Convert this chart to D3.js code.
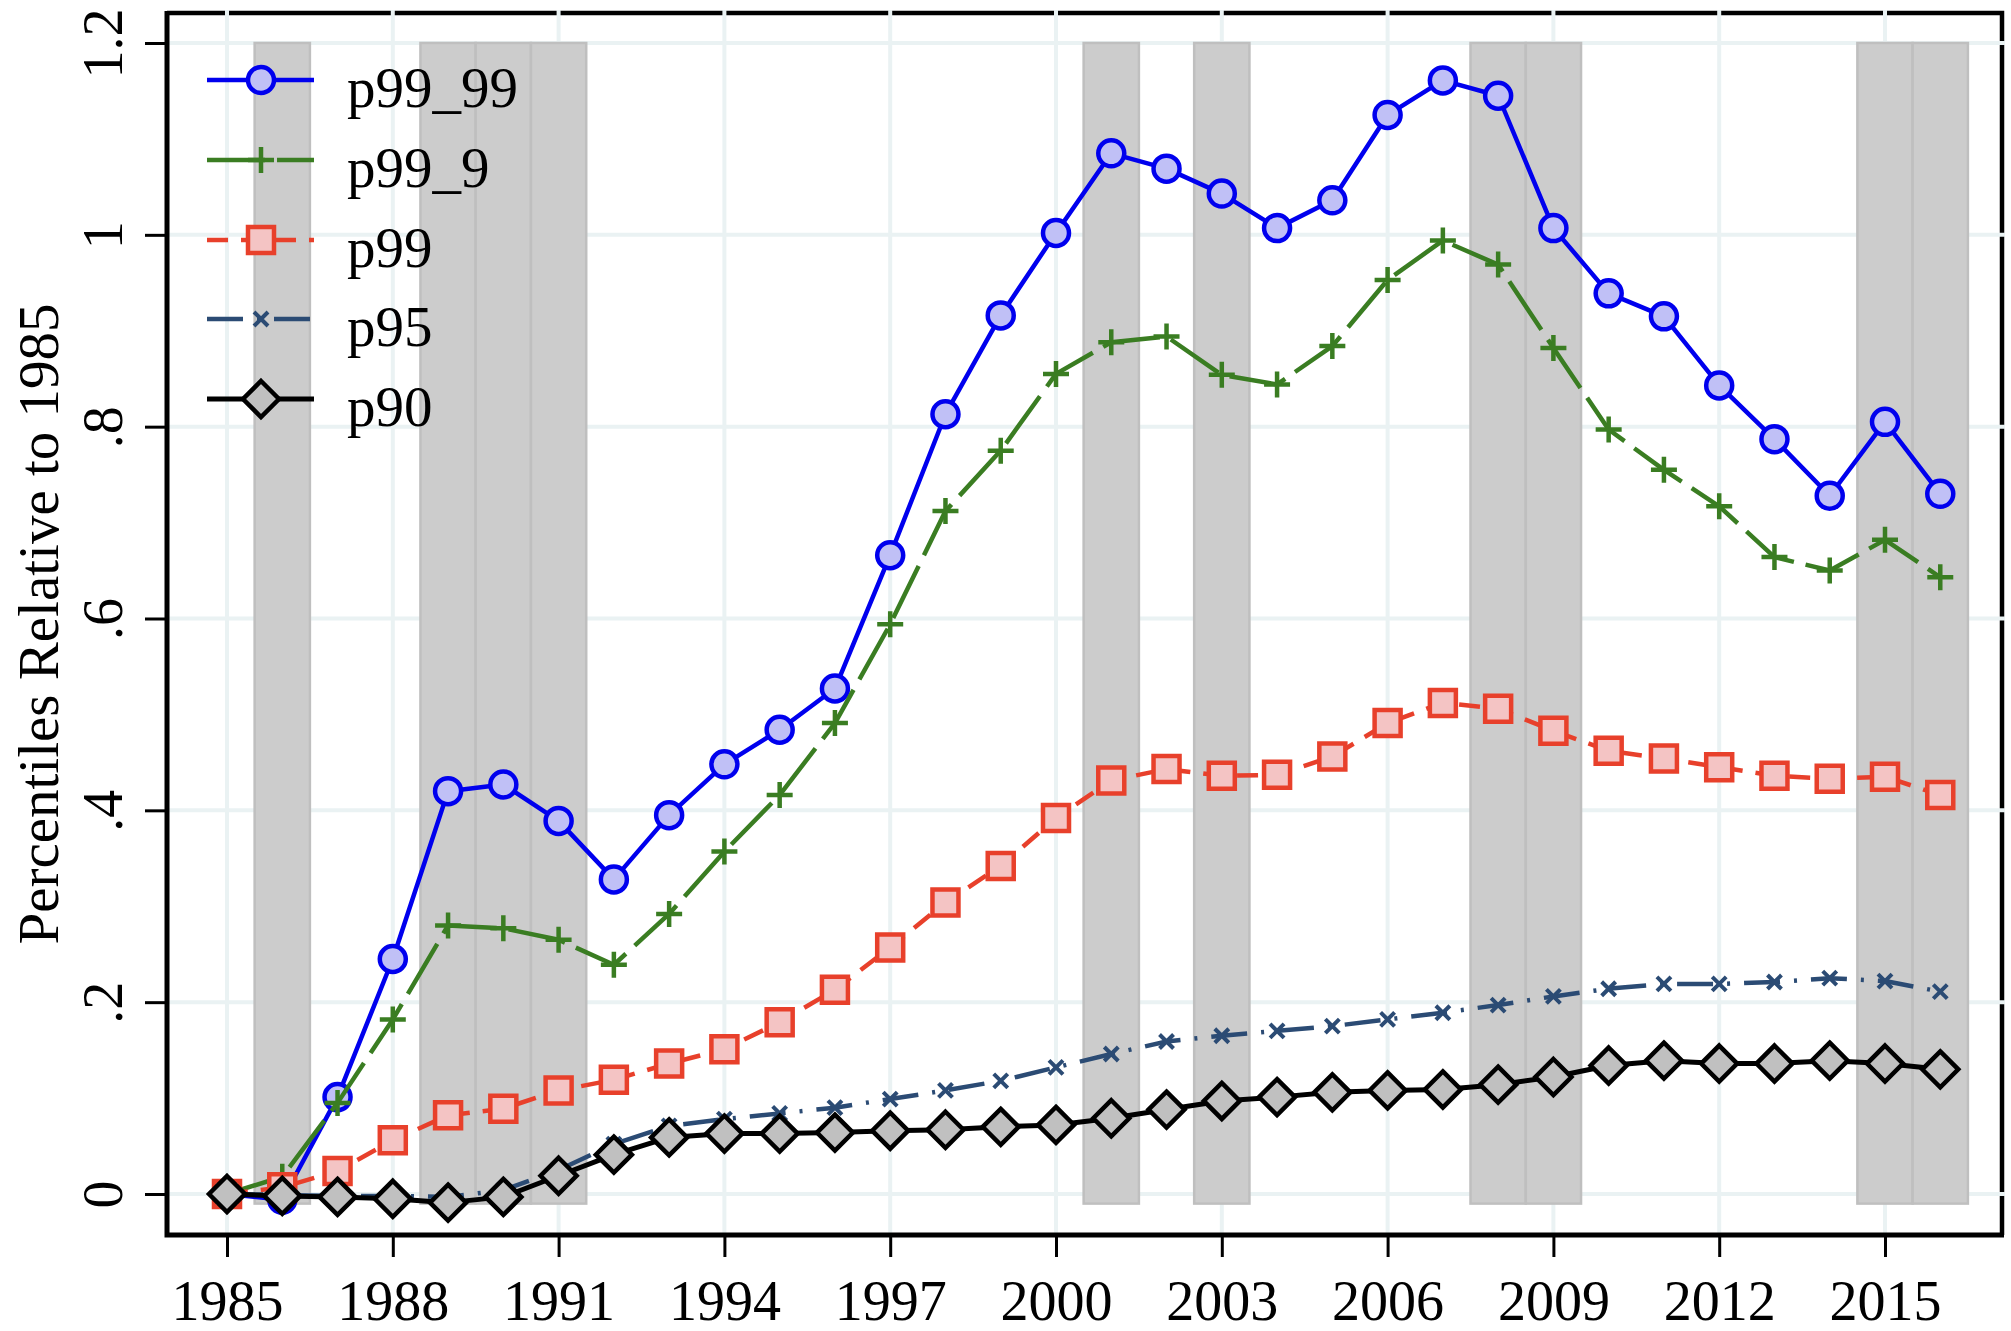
<!DOCTYPE html>
<html>
<head>
<meta charset="utf-8">
<script src="https://cdn.jsdelivr.net/npm/d3@7"></script>
<style>
  body { margin: 0; background: #fff; }
  text { font-family: "Liberation Serif", "Times New Roman", serif; fill: #000; }
</style>
</head>
<body>
<div id="chart"></div>
<script>
// Data
var years = [1985, 1986, 1987, 1988, 1989, 1990, 1991, 1992, 1993, 1994, 1995, 1996, 1997, 1998, 1999, 2000,
             2001, 2002, 2003, 2004, 2005, 2006, 2007, 2008, 2009, 2010, 2011, 2012, 2013, 2014, 2015, 2016];

var p99_99 = [0, -0.006, 0.101, 0.245, 0.420, 0.427, 0.389, 0.328, 0.395, 0.448, 0.484, 0.527, 0.666, 0.813, 0.916, 1.002,
              1.085, 1.069, 1.043, 1.007, 1.036, 1.125, 1.161, 1.145, 1.007, 0.939, 0.915, 0.843, 0.787, 0.728, 0.805, 0.730];
var p99_9 = [0, 0.018, 0.095, 0.182, 0.280, 0.277, 0.265, 0.239, 0.292, 0.357, 0.416, 0.491, 0.594, 0.712, 0.775, 0.855,
             0.888, 0.894, 0.854, 0.844, 0.884, 0.953, 0.994, 0.969, 0.882, 0.797, 0.755, 0.717, 0.664, 0.650, 0.682, 0.643];
var p99 = [0, 0.007, 0.024, 0.056, 0.082, 0.089, 0.108, 0.119, 0.136, 0.151, 0.179, 0.213, 0.257, 0.304, 0.342, 0.392,
           0.431, 0.443, 0.436, 0.437, 0.456, 0.491, 0.512, 0.506, 0.483, 0.462, 0.454, 0.445, 0.436, 0.433, 0.435, 0.416];
var p95 = [0, -0.001, -0.002, -0.002, -0.003, 0.004, 0.025, 0.052, 0.071, 0.078, 0.084, 0.090, 0.099, 0.108, 0.118, 0.132,
           0.146, 0.159, 0.165, 0.170, 0.175, 0.182, 0.189, 0.197, 0.206, 0.214, 0.219, 0.219, 0.221, 0.225, 0.222, 0.211];
var p90 = [0, -0.002, -0.003, -0.005, -0.009, -0.003, 0.019, 0.041, 0.059, 0.063, 0.063, 0.064, 0.066, 0.067, 0.070, 0.072,
           0.079, 0.088, 0.097, 0.101, 0.106, 0.108, 0.109, 0.114, 0.122, 0.134, 0.139, 0.136, 0.136, 0.139, 0.136, 0.130];

var recessionYears = [1986, 1989, 1990, 1991, 2001, 2003, 2008, 2009, 2015, 2016];

var xTicks = [1985, 1988, 1991, 1994, 1997, 2000, 2003, 2006, 2009, 2012, 2015];
var yTicks = [0, 0.2, 0.4, 0.6, 0.8, 1, 1.2];
var yTickLabels = ["0", ".2", ".4", ".6", ".8", "1", "1.2"];

var seriesNames = ["p99_99", "p99_9", "p99", "p95", "p90"];

// Layout
var width = 2011, height = 1331;
var plot = {left: 167, right: 2002, top: 13, bottom: 1235};

var x = d3.scaleLinear().domain([1985, 2015]).range([227, 1885]);
var y = d3.scaleLinear().domain([0, 1.2]).range([1194, 43]);

var series = [
  {name: seriesNames[0], values: p99_99, color: "#0000ee", fill: "#c0c0f6", dash: null,          marker: "circle",  lw: 4.5},
  {name: seriesNames[1], values: p99_9,  color: "#3a7d22", fill: "none",    dash: "58,12",       marker: "plus",    lw: 4.5},
  {name: seriesNames[2], values: p99,    color: "#e8402b", fill: "#f4c4c4", dash: "21,13",       marker: "square",  lw: 4.5},
  {name: seriesNames[3], values: p95,    color: "#2b4b74", fill: "none",    dash: "36,14,3,14",  marker: "x",       lw: 4.5},
  {name: seriesNames[4], values: p90,    color: "#000000", fill: "#c0c0c0", dash: null,          marker: "diamond", lw: 5}
];

function markerPath(type) {
  switch (type) {
    case "circle":  return "M-13,0A13,13 0 1,0 13,0A13,13 0 1,0 -13,0Z";
    case "square":  return "M-13,-13H13V13H-13Z";
    case "diamond": return "M0,-18L18,0L0,18L-18,0Z";
    case "plus":    return "M-13,0H13M0,-13V13";
    case "x":       return "M-7,-7L7,7M-7,7L7,-7";
  }
}

var svg = d3.select("#chart")
  .append("svg")
  .attr("width", width)
  .attr("height", height)
  .style("display", "block");

svg.append("rect").attr("width", width).attr("height", height).attr("fill", "#fff");

// plot region outline (top + right), gridlines go over it
svg.append("path")
  .attr("d", "M" + plot.left + "," + plot.top + "H" + plot.right + "V" + plot.bottom)
  .attr("fill", "none")
  .attr("stroke", "#000")
  .attr("stroke-width", 4.5);

// Gridlines
svg.append("g").selectAll("line.hgrid")
  .data(yTicks)
  .enter().append("line")
  .attr("class", "hgrid")
  .attr("x1", plot.left).attr("x2", plot.right + 3)
  .attr("y1", function(d) { return y(d); })
  .attr("y2", function(d) { return y(d); })
  .attr("stroke", "#eaf2f3")
  .attr("stroke-width", 4);

svg.append("g").selectAll("line.vgrid")
  .data(xTicks)
  .enter().append("line")
  .attr("class", "vgrid")
  .attr("x1", function(d) { return x(d); })
  .attr("x2", function(d) { return x(d); })
  .attr("y1", plot.top - 3).attr("y2", plot.bottom)
  .attr("stroke", "#eaf2f3")
  .attr("stroke-width", 4);

// Recession shading
svg.append("g").selectAll("rect")
  .data(recessionYears)
  .enter().append("rect")
  .attr("x", function(d) { return x(d - 0.5); })
  .attr("width", function(d) { return x(d + 0.5) - x(d - 0.5); })
  .attr("y", y(1.2))
  .attr("height", y(-0.01) - y(1.2))
  .attr("fill", "#cccccc")
  .attr("stroke", "#bfbfbf")
  .attr("stroke-width", 2.5);

// Series
var line = d3.line()
  .x(function(d, i) { return x(years[i]); })
  .y(function(d) { return y(d); });

series.forEach(function(s) {
  var g = svg.append("g").attr("class", "series");
  g.append("path")
    .attr("d", line(s.values))
    .attr("fill", "none")
    .attr("stroke", s.color)
    .attr("stroke-width", s.lw)
    .attr("stroke-linejoin", "round")
    .attr("stroke-dasharray", s.dash);
  g.selectAll("path.marker")
    .data(s.values)
    .enter().append("path")
    .attr("class", "marker")
    .attr("transform", function(d, i) { return "translate(" + x(years[i]) + "," + y(d) + ")"; })
    .attr("d", markerPath(s.marker))
    .attr("fill", s.fill)
    .attr("stroke", s.color)
    .attr("stroke-width", s.marker == "x" ? 4 : 4.5);
});

// Axes
var xAxis = d3.axisBottom(x).tickValues(xTicks).tickSize(22).tickSizeOuter(0).tickFormat(d3.format("d"));
var yAxis = d3.axisLeft(y).tickValues(yTicks).tickSize(22).tickSizeOuter(0)
  .tickFormat(function(d, i) { return yTickLabels[i]; });

var gx = svg.append("g")
  .attr("transform", "translate(0," + plot.bottom + ")")
  .call(xAxis);
gx.select(".domain").remove();
gx.selectAll(".tick line").attr("stroke", "#000").attr("stroke-width", 3);
gx.selectAll(".tick text")
  .attr("y", 85)
  .attr("dy", null)
  .attr("fill", "#000")
  .style("font-size", "56px")
  .style("font-family", "'Liberation Serif', serif");

var gy = svg.append("g")
  .attr("transform", "translate(" + plot.left + ",0)")
  .call(yAxis);
gy.select(".domain").remove();
gy.selectAll(".tick line").attr("stroke", "#000").attr("stroke-width", 3);
gy.selectAll(".tick text")
  .attr("x", 0)
  .attr("y", -45)
  .attr("dy", null)
  .attr("transform", "rotate(-90)")
  .attr("text-anchor", "middle")
  .attr("fill", "#000")
  .style("font-size", "56px")
  .style("font-family", "'Liberation Serif', serif");

// axis lines
svg.append("path")
  .attr("d", "M" + plot.left + "," + (plot.top - 2) + "V" + plot.bottom + "H" + (plot.right + 2))
  .attr("fill", "none")
  .attr("stroke", "#000")
  .attr("stroke-width", 5);

// Y axis title
svg.append("text")
  .attr("transform", "translate(58," + ((plot.top + plot.bottom) / 2) + ") rotate(-90)")
  .attr("text-anchor", "middle")
  .style("font-size", "57px")
  .text("Percentiles Relative to 1985");

// Legend
var legend = svg.append("g").attr("class", "legend");
var legendRow = 80;
series.forEach(function(s, i) {
  var ly = 80 + i * legendRow - (i > 2 ? 1 : 0);
  var lg = legend.append("g").attr("transform", "translate(0," + ly + ")");
  lg.append("line")
    .attr("x1", 207).attr("x2", 314)
    .attr("y1", 0).attr("y2", 0)
    .attr("stroke", s.color)
    .attr("stroke-width", s.lw)
    .attr("stroke-dasharray", s.dash);
  lg.append("path")
    .attr("transform", "translate(261,0)")
    .attr("d", markerPath(s.marker))
    .attr("fill", s.fill)
    .attr("stroke", s.color)
    .attr("stroke-width", s.marker == "x" ? 4 : 4.5);
  lg.append("text")
    .attr("x", 347)
    .attr("y", 27)
    .style("font-size", "57px")
    .text(s.name);
});
</script>
</body>
</html>
